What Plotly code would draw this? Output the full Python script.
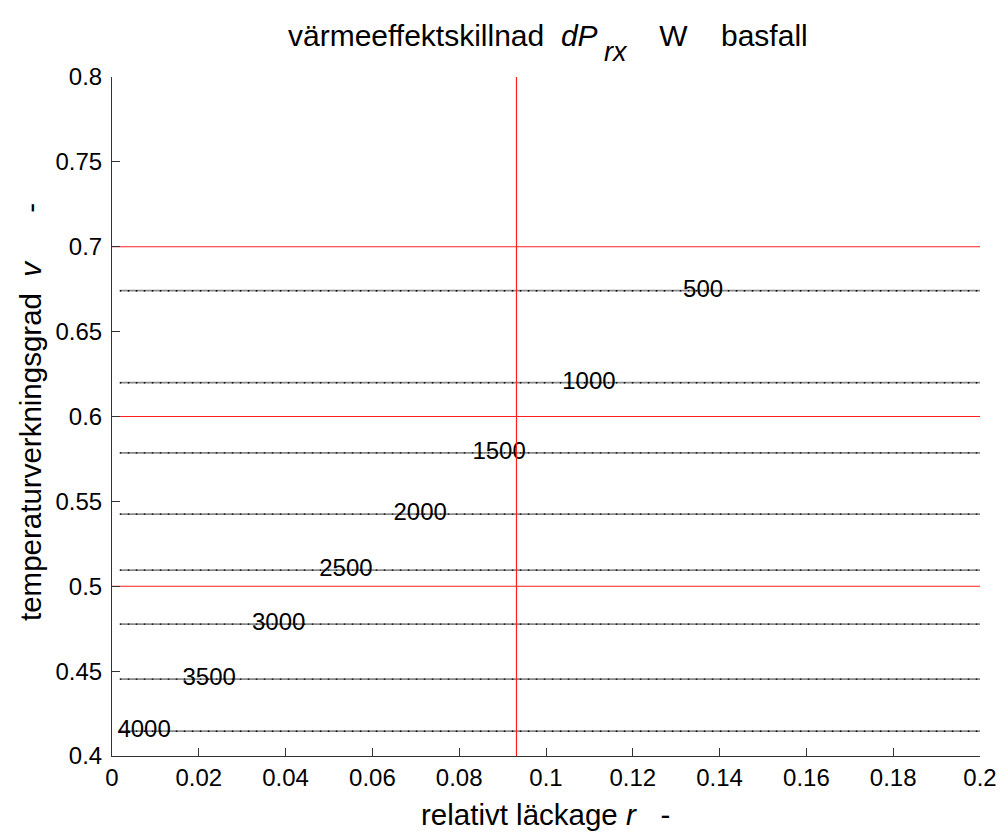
import plotly.graph_objects as go

# Contour levels of the heat power difference dP_rx [W] and where they sit
contour_levels = [500, 1000, 1500, 2000, 2500, 3000, 3500, 4000]
contour_v = [0.6741, 0.6199, 0.5786, 0.5425, 0.5095, 0.4777, 0.4453, 0.4146]
label_r = [0.1362, 0.1099, 0.0892, 0.0710, 0.0539, 0.0384, 0.0224, 0.0074]
r_span = [0.0018, 0.2]

# Reference lines (red)
ref_v = [0.5, 0.6, 0.7]
ref_r = 0.0932

x_ticks = [0, 0.02, 0.04, 0.06, 0.08, 0.1, 0.12, 0.14, 0.16, 0.18, 0.2]
x_tick_text = ["0", "0.02", "0.04", "0.06", "0.08", "0.1", "0.12", "0.14", "0.16", "0.18", "0.2"]
y_ticks = [0.4, 0.45, 0.5, 0.55, 0.6, 0.65, 0.7, 0.75, 0.8]
y_tick_text = ["0.4", "0.45", "0.5", "0.55", "0.6", "0.65", "0.7", "0.75", "0.8"]

FONT = "Liberation Sans, Arial, sans-serif"
NB = "\u00a0"

W, H = 1001, 835
ML, MR, MT, MB = 112, 21, 77, 79
PW, PH = W - ML - MR, H - MT - MB


def px_x(px):
    """page pixel column -> paper x"""
    return (px - ML) / PW


def px_y(py):
    """page pixel row -> paper y"""
    return (H - MB - py) / PH


fig = go.Figure()

for lev, v in zip(contour_levels, contour_v):
    fig.add_trace(go.Scatter(
        x=r_span, y=[v, v], mode="lines",
        line=dict(color="#8a8a8a", width=1.8),
        hoverinfo="skip", showlegend=False))
    fig.add_trace(go.Scatter(
        x=r_span, y=[v, v], mode="lines",
        line=dict(color="#000000", width=1.4, dash="1.5px,6.5px"),
        hoverinfo="skip", showlegend=False))

# inline contour labels
fig.add_trace(go.Scatter(
    x=label_r, y=contour_v, mode="text",
    text=[str(l) for l in contour_levels],
    textposition="middle center",
    textfont=dict(family=FONT, size=24, color="#000000"),
    hoverinfo="skip", showlegend=False))

for v in ref_v:
    fig.add_trace(go.Scatter(
        x=[0, 0.2], y=[v, v], mode="lines",
        line=dict(color="#ff2020", width=1.2),
        hoverinfo="skip", showlegend=False))
fig.add_trace(go.Scatter(
    x=[ref_r, ref_r], y=[0.4, 0.8], mode="lines",
    line=dict(color="#ff2020", width=1.2),
    hoverinfo="skip", showlegend=False))

axis_common = dict(
    showgrid=False, zeroline=False, automargin=False,
    showline=True, linecolor="#333333", linewidth=1,
    ticks="inside", ticklen=8, tickcolor="#333333", tickwidth=1,
    tickfont=dict(family=FONT, size=24, color="#000000"),
)

title_font = dict(family=FONT, size=30, color="#000000")
label_font = dict(family=FONT, size=29.5, color="#000000")

annotations = [
    # title: main text, subscript, and units
    dict(text="värmeeffektskillnad" + NB * 2 + "<i>dP</i>",
         xref="paper", yref="paper", x=px_x(600), y=px_y(36),
         xanchor="right", yanchor="middle", showarrow=False, font=title_font),
    dict(text="<i>rx</i>",
         xref="paper", yref="paper", x=px_x(602), y=px_y(52),
         xanchor="left", yanchor="middle", showarrow=False,
         font=dict(family=FONT, size=27, color="#000000")),
    dict(text=NB * 4 + "W" + NB * 4 + "basfall",
         xref="paper", yref="paper", x=px_x(624), y=px_y(36),
         xanchor="left", yanchor="middle", showarrow=False, font=title_font),
    # axis titles
    dict(text="relativt läckage" + NB + "<i>r</i>" + NB * 3 + "-",
         xref="paper", yref="paper", x=px_x(545), y=px_y(814),
         xanchor="center", yanchor="middle", showarrow=False, font=label_font),
    dict(text="temperaturverkningsgrad" + NB * 2 + "<i>v</i>" + NB * 6 + "-",
         xref="paper", yref="paper", x=px_x(30), y=px_y(412),
         xanchor="center", yanchor="middle", showarrow=False, textangle=-90,
         font=label_font),
]

fig.update_layout(
    width=W, height=H,
    margin=dict(l=ML, r=MR, t=MT, b=MB),
    paper_bgcolor="white", plot_bgcolor="white",
    font=dict(family=FONT, color="#000000"),
    xaxis=dict(range=[0, 0.2], tickvals=x_ticks, ticktext=x_tick_text, **axis_common),
    yaxis=dict(range=[0.4, 0.8], tickvals=y_ticks, ticktext=y_tick_text,
               ticklabelstandoff=4, **axis_common),
    annotations=annotations,
)

fig.write_html("out.html")
